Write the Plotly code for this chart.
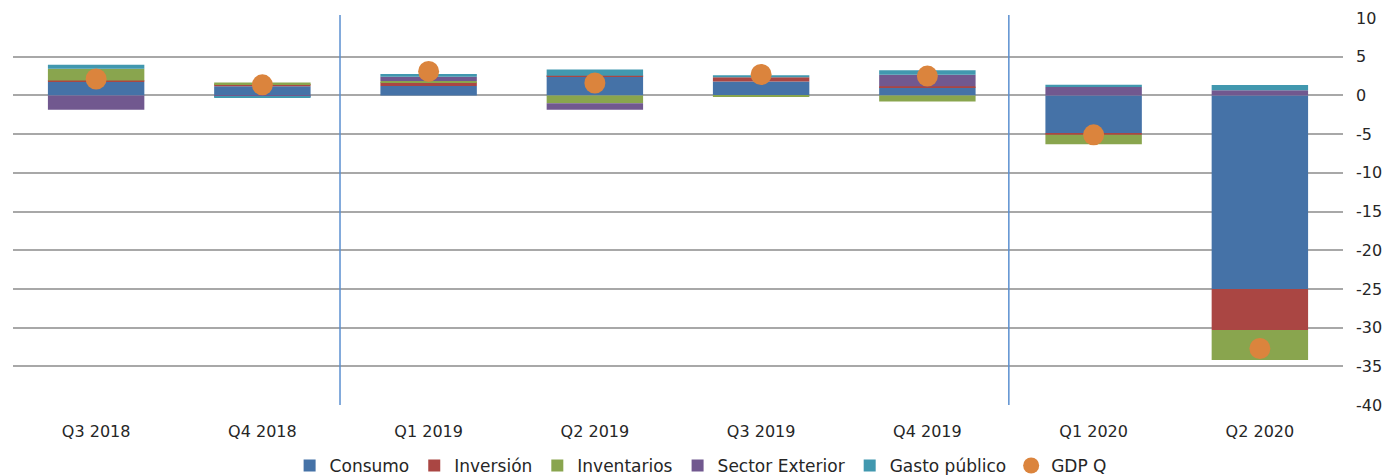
import plotly.graph_objects as go

quarters = ["Q3 2018", "Q4 2018", "Q1 2019", "Q2 2019", "Q3 2019", "Q4 2019", "Q1 2020", "Q2 2020"]
consumo = [1.77, 1.17, 1.2, 2.5, 1.8, 1.05, -4.93, -25.0]
inversion = [0.17, 0.3, 0.5, 0.05, 0.55, 0.13, -0.17, -5.3]
inventarios = [1.5, 0.21, 0.15, -1.0, -0.2, -0.8, -1.2, -3.9]
sector_exterior = [-1.85, -0.2, 0.55, -0.87, 0.0, 1.5, 1.1, 0.65]
gasto_publico = [0.52, -0.15, 0.35, 0.8, 0.26, 0.56, 0.26, 0.7]
gdp_q = [2.12, 1.36, 3.1, 1.6, 2.7, 2.5, -5.1, -32.7]
y_ticks = [10, 5, 0, -5, -10, -15, -20, -25, -30, -35, -40]
y_tick_labels = ["10", "5", "0", "-5", "-10", "-15", "-20", "-25", "-30", "-35", "-40"]
divider_positions = [1.467, 5.49]

series = [
    ("Consumo", consumo, "#4572A7"),
    ("Inversión", inversion, "#AA4643"),
    ("Inventarios", inventarios, "#89A54E"),
    ("Sector Exterior", sector_exterior, "#71588F"),
    ("Gasto público", gasto_publico, "#4198AF"),
]

fig = go.Figure()
for name, vals, color in series:
    fig.add_trace(go.Bar(
        x=quarters, y=vals, name=name,
        marker=dict(color=color, line=dict(width=0)),
        width=0.58,
    ))

fig.add_trace(go.Scatter(
    x=quarters, y=gdp_q, name="GDP Q", mode="markers",
    marker=dict(color="#DB843D", size=21, symbol="circle"),
))

for xp in divider_positions:
    fig.add_shape(type="line", xref="x", yref="paper", x0=xp, x1=xp, y0=0, y1=1.008,
                  line=dict(color="#5B8FD0", width=1.5), layer="above")

font_family = "'DejaVu Sans', Verdana, sans-serif"

fig.update_layout(
    width=1392, height=475,
    margin=dict(l=13, r=49, t=18, b=70, autoexpand=False),
    barmode="relative",
    bargap=0.42,
    plot_bgcolor="white", paper_bgcolor="white",
    font=dict(family=font_family, size=16, color="#262626"),
    showlegend=True,
    legend=dict(orientation="h", x=0.517, xanchor="center",
                yref="container", y=0.019, yanchor="middle",
                traceorder="normal", font=dict(size=17, family=font_family),
                itemwidth=30, tracegroupgap=0),
    xaxis=dict(
        type="category", categoryorder="array", categoryarray=quarters,
        showgrid=False, showline=False, zeroline=False, ticks="",
        ticklabelstandoff=15, tickfont=dict(size=16), automargin=False,
    ),
    yaxis=dict(
        side="right", range=[-40, 10], tickvals=y_ticks, ticktext=y_tick_labels,
        showgrid=True, gridcolor="#A8A8A8", gridwidth=1.5,
        zeroline=True, zerolinecolor="#A8A8A8", zerolinewidth=1.5,
        showline=False, ticks="", ticklabelstandoff=12, tickfont=dict(size=16),
        automargin=False,
    ),
)

fig.write_html("out.html", config={"displayModeBar": False},
               post_script="document.body.style.margin='0';document.body.style.overflow='hidden';")
